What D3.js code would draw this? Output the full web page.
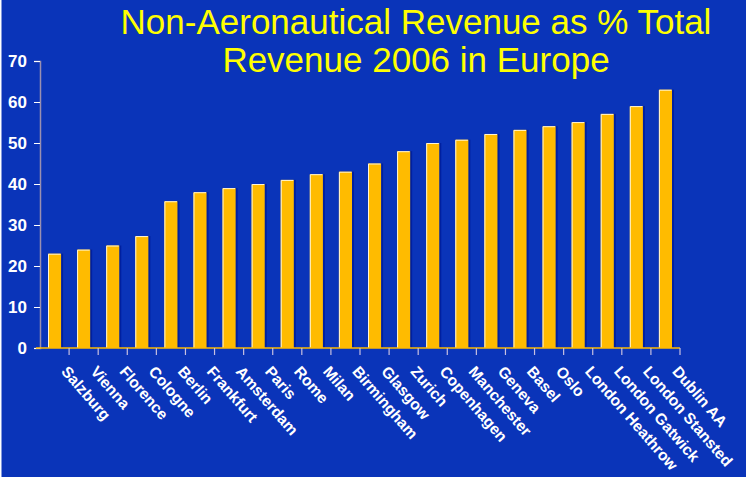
<!DOCTYPE html>
<html>
<head>
<meta charset="utf-8">
<script src="https://cdn.jsdelivr.net/npm/d3@7"></script>
<style>
  body { margin: 0; background: #ffffff; }
  svg { display: block; }
</style>
</head>
<body>
<div id="chart"></div>
<script>
const airports = ["Salzburg", "Vienna", "Florence", "Cologne", "Berlin", "Frankfurt", "Amsterdam",
    "Paris", "Rome", "Milan", "Birmingham", "Glasgow", "Zurich", "Copenhagen", "Manchester",
    "Geneva", "Basel", "Oslo", "London Heathrow", "London Gatwick", "London Stansted", "Dublin AA"]
const revenueShare = [23, 24, 25, 27.3, 35.8, 38, 39, 40, 41, 42.4, 43, 45, 48, 50, 50.8, 52.2,
    53.2, 54.1, 55.1, 57.1, 59, 63]
const yTicks = [0, 10, 20, 30, 40, 50, 60, 70]
const titleLines = ["Non-Aeronautical Revenue as % Total", "Revenue 2006 in Europe"]

const width = 746, height = 479
const margin = { top: 61, right: 66, bottom: 131, left: 40 }

const svg = d3.select("#chart")
    .append("svg")
    .attr("width", width)
    .attr("height", height)

// background
svg.append("rect")
    .attr("width", width)
    .attr("height", height)
    .attr("fill", "#0a34b9")
svg.append("rect")
    .attr("x", 0).attr("y", 0)
    .attr("width", 1.5).attr("height", 478)
    .attr("fill", "#ffffff")
svg.append("rect")
    .attr("x", 0).attr("y", 477)
    .attr("width", width).attr("height", 2)
    .attr("fill", "#ffffff")

const x = d3.scaleBand()
    .domain(airports)
    .range([margin.left, width - margin.right])
    .paddingInner(0.55)
    .paddingOuter(0.275)

const y = d3.scaleLinear()
    .domain([0, 70])
    .range([height - margin.bottom, margin.top])

// title
svg.append("g")
    .selectAll("text")
    .data(titleLines)
    .join("text")
    .attr("x", 416)
    .attr("y", (d, i) => 34 + i * 38)
    .attr("text-anchor", "middle")
    .attr("fill", "#ffff00")
    .style("font-family", "Liberation Sans, Arial, sans-serif")
    .style("font-size", "35px")
    .text(d => d)

// bars: shadow, body, highlight
const bars = svg.append("g")
    .selectAll("g")
    .data(revenueShare)
    .join("g")

bars.append("rect")
    .attr("x", (d, i) => x(airports[i]) + 2)
    .attr("y", d => y(d))
    .attr("width", x.bandwidth())
    .attr("height", d => y(0) - y(d))
    .attr("fill", "#0020a0")

bars.append("rect")
    .attr("x", (d, i) => x(airports[i]))
    .attr("y", d => y(d))
    .attr("width", x.bandwidth())
    .attr("height", d => y(0) - y(d))
    .attr("fill", "#ffbb00")

bars.append("path")
    .attr("d", (d, i) => {
        const x0 = x(airports[i]) + 0.5
        return `M${x0},${y(0)}V${y(d) + 0.5}H${x0 + x.bandwidth() - 1}`
    })
    .attr("fill", "none")
    .attr("stroke", "#fff6d8")
    .attr("stroke-width", 1)

// y axis
const yAxis = svg.append("g")
    .attr("transform", `translate(${margin.left},0)`)
    .call(d3.axisLeft(y).tickValues(yTicks).tickSize(6).tickPadding(7))

yAxis.select(".domain")
    .attr("stroke", "#9a8fb0")
    .attr("stroke-width", 1.5)
yAxis.selectAll(".tick line")
    .attr("stroke", "#ffffff")
yAxis.selectAll(".tick text")
    .attr("fill", "#ffffff")
    .style("font-family", "Liberation Sans, Arial, sans-serif")
    .style("font-size", "17px")
    .style("font-weight", "bold")

// x axis line and separator ticks
svg.append("line")
    .attr("x1", margin.left - 4)
    .attr("x2", width - margin.right)
    .attr("y1", y(0))
    .attr("y2", y(0))
    .attr("stroke", "#ffbb00")
    .attr("stroke-width", 1.5)

const step = (width - margin.right - margin.left) / airports.length
svg.append("g")
    .selectAll("line")
    .data(d3.range(1, airports.length + 1))
    .join("line")
    .attr("x1", i => margin.left + i * step)
    .attr("x2", i => margin.left + i * step)
    .attr("y1", y(0))
    .attr("y2", y(0) + 7)
    .attr("stroke", "#c8c0e0")
    .attr("stroke-width", 1.2)

// x labels rotated
svg.append("g")
    .selectAll("text")
    .data(airports)
    .join("text")
    .attr("transform", d => `translate(${x(d) + x.bandwidth() / 2 + 6},${y(0) + 24}) rotate(49)`)
    .attr("fill", "#ffffff")
    .style("font-family", "Liberation Sans, Arial, sans-serif")
    .style("font-size", "15.5px")
    .style("font-weight", "bold")
    .text(d => d)
</script>
</body>
</html>
